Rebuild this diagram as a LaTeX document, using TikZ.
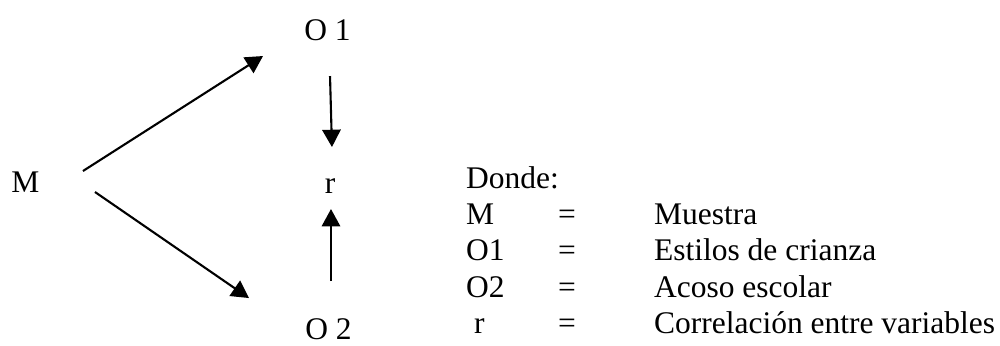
\documentclass[tikz,border=0pt]{standalone}
\usepackage{fontspec}
\setmainfont{Liberation Serif}
\usetikzlibrary{arrows.meta}

\begin{document}
\begin{tikzpicture}[scale=1.0, line width=0.8pt,
    every node/.style={font=\fontsize{12}{14}\selectfont, inner sep=0pt},
    arr/.style={-{Triangle[length=6.6pt, width=7pt]}}]
  \useasboundingbox (0,0) rectangle (13.39,4.62);
  % diagram
  \node[anchor=base] (M)  at (0.341,2.049) {M};
  \node[anchor=base] (O1) at (4.385,4.084) {O 1};
  \node[anchor=base] (r)  at (4.419,2.035) {r};
  \node[anchor=base] (O2) at (4.399,0.07) {O 2};
  % arrow ends
  \coordinate (Mup) at (1.111,2.330);
  \coordinate (Mdn) at (1.272,2.049);
  \coordinate (O1in) at (3.522,3.870);
  \coordinate (O2in) at (3.334,0.629);
  \coordinate (O1out) at (4.419,3.602);
  \coordinate (rtop) at (4.445,2.651);
  \coordinate (O2out) at (4.432,0.857);
  \coordinate (rbot) at (4.432,1.821);
  \draw[arr] (Mup) -- (O1in);
  \draw[arr] (Mdn) -- (O2in);
  \draw[arr] (O1out) -- (rtop);
  \draw[arr] (O2out) -- (rbot);
  % legend
  \node[anchor=base west] (donde) at (6.226,2.102) {Donde:};
  \node[anchor=base west] (kM)  at (6.226,1.620) {M};
  \node[anchor=base] (eqM)  at (7.592,1.620) {=};
  \node[anchor=base west] (vM)  at (8.744,1.620) {Muestra};
  \node[anchor=base west] (kO1) at (6.226,1.138) {O1};
  \node[anchor=base] (eqO1) at (7.592,1.138) {=};
  \node[anchor=base west] (vO1) at (8.744,1.138) {Estilos de crianza};
  \node[anchor=base west] (kO2) at (6.226,0.643) {O2};
  \node[anchor=base] (eqO2) at (7.592,0.643) {=};
  \node[anchor=base west] (vO2) at (8.744,0.643) {Acoso escolar};
  \node[anchor=base west] (kr)  at (6.333,0.161) {r};
  \node[anchor=base] (eqr)  at (7.592,0.161) {=};
  \node[anchor=base west] (vr)  at (8.744,0.161) {Correlación entre variables};
\end{tikzpicture}
\end{document}
